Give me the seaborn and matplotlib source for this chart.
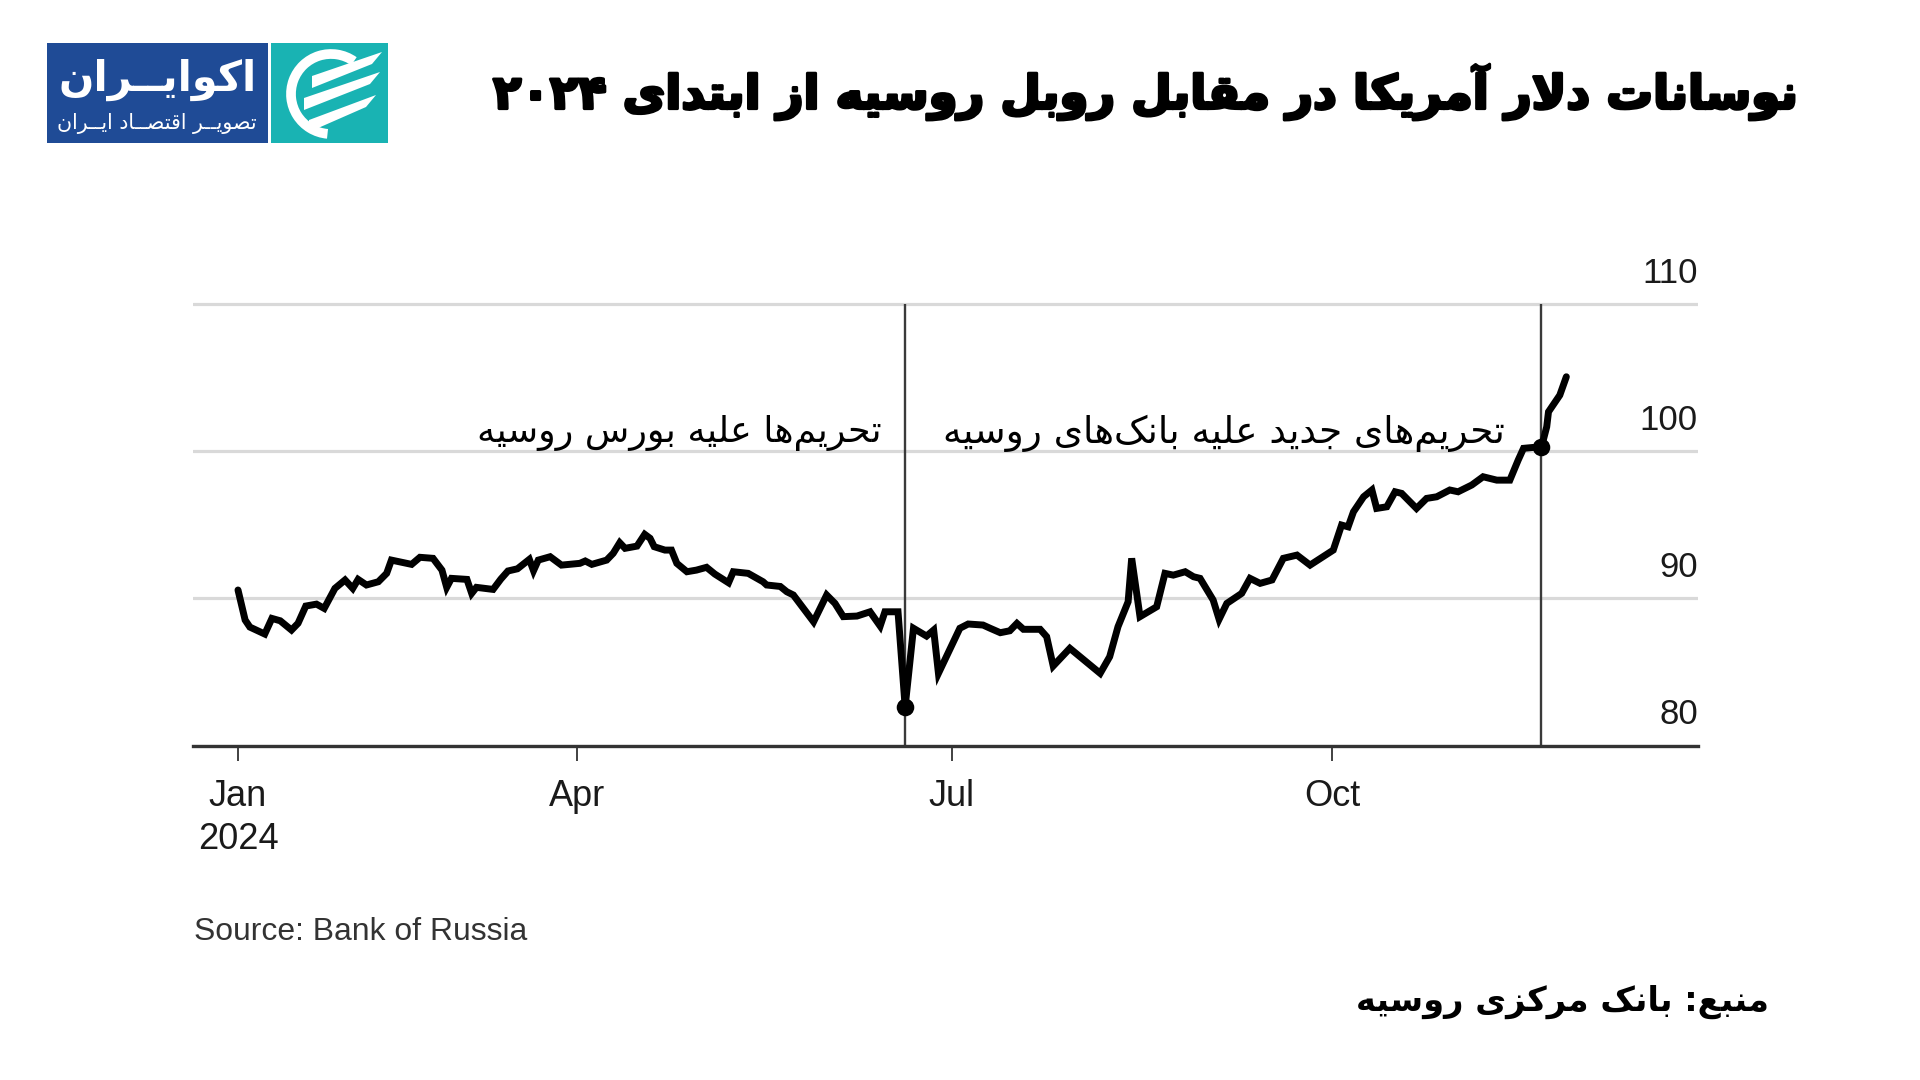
import re
import matplotlib
matplotlib.use("Agg")
import matplotlib.pyplot as plt
import matplotlib.transforms as mtransforms
import matplotlib.patheffects as pe
from matplotlib.patches import Rectangle, Arc, Polygon
import seaborn as sns
import pandas as pd

# ---------------- DATA ----------------
trading_day = [0.0, 1.2, 2.0, 4.5, 5.7, 7.1, 9.0, 10.1, 11.4, 13.2, 14.5, 16.3, 18.0, 19.3, 20.2,
               21.6, 23.6, 25.0, 25.8, 29.2, 30.6, 32.8, 34.3, 35.1, 35.9, 38.5, 39.3, 40.1, 42.9,
               44.2, 45.4, 47.0, 49.0, 49.7, 50.5, 52.5, 54.4, 57.5, 58.4, 59.5, 62.0, 63.1, 64.2,
               65.1, 67.1, 68.4, 69.3, 70.0, 71.8, 72.9, 73.8, 75.5, 77.1, 78.8, 80.2, 82.5, 83.3,
               85.8, 88.3, 88.9, 91.2, 92.3, 93.4, 96.8, 99.0, 100.4, 101.8, 104.1, 106.3, 108.0,
               108.8, 111.0, 112.2, 113.6, 115.8, 117.0, 117.8, 121.4, 122.8, 125.3, 126.5, 128.2,
               129.8, 131.0, 132.1, 134.9, 136.0, 137.1, 139.9, 145.0, 146.6, 148.0, 149.7, 150.3,
               151.7, 154.5, 155.9, 157.3, 159.3, 160.7, 161.8, 164.0, 165.0, 166.3, 168.8, 170.2,
               171.9, 173.9, 175.8, 178.1, 180.3, 184.2, 185.6, 186.7, 187.6, 189.3, 190.7, 191.5,
               193.2, 194.6, 195.7, 196.8, 198.2, 199.9, 201.6, 203.8, 205.2, 207.5, 209.4, 211.7,
               213.9, 215.3, 216.2, 217.8, 219.2, 220.1, 220.4, 222.3, 223.4]
usd_rub = [90.56, 88.52, 88.04, 87.57, 88.63, 88.47, 87.84, 88.30, 89.47, 89.60, 89.31, 90.67, 91.24,
           90.67, 91.28, 90.90, 91.12, 91.69, 92.59, 92.30, 92.78, 92.71, 91.91, 90.74, 91.35, 91.28,
           90.33, 90.74, 90.60, 91.30, 91.85, 92.00, 92.64, 91.87, 92.59, 92.82, 92.25, 92.37, 92.53,
           92.30, 92.59, 93.05, 93.77, 93.39, 93.54, 94.34, 94.07, 93.50, 93.27, 93.27, 92.37, 91.80,
           91.91, 92.10, 91.64, 91.05, 91.80, 91.69, 91.12, 90.90, 90.80, 90.44, 90.22, 88.40, 90.22,
           89.65, 88.75, 88.79, 89.08, 88.11, 89.08, 89.08, 82.63, 87.96, 87.43, 87.84, 84.90, 87.96,
           88.25, 88.18, 87.96, 87.66, 87.79, 88.29, 87.89, 87.89, 87.39, 85.40, 86.60, 84.90, 86.03,
           88.07, 89.76, 92.71, 88.75, 89.42, 91.69, 91.57, 91.80, 91.46, 91.35, 89.88, 88.57, 89.65,
           90.33, 91.35, 91.01, 91.24, 92.71, 92.93, 92.25, 93.27, 94.97, 94.85, 95.87, 96.89, 97.35,
           96.10, 96.21, 97.23, 97.12, 96.67, 96.10, 96.78, 96.89, 97.35, 97.23, 97.69, 98.25, 98.02,
           98.02, 99.38, 100.18, 100.24, 100.24, 101.64, 102.66, 103.79, 105.04]
event_day = [112.2, 219.2]
event_rate = [82.63, 100.24]
month_tick_day = [0, 57, 120, 184]
month_tick_label = ["Jan\n2024", "Apr", "Jul", "Oct"]
y_ticks = [80, 90, 100, 110]
y_tick_label = ["80", "90", "100", "110"]

title_fa = "نوسانات دلار آمریکا در مقابل روبل روسیه از ابتدای ۲۰۲۴"
annot_fa = ["تحریم‌ها علیه بورس روسیه", "تحریم‌های جدید علیه بانک‌های روسیه"]
source_en = "Source: Bank of Russia"
source_fa = "منبع: بانک مرکزی روسیه"
logo_main = "اکوایــران"
logo_sub = "تصویــر اقتصــاد ایــران"

# ---------------- Persian shaping (presentation forms + RTL order) ----------------
FORMS = {
    "ا": (0xFE8D, 0xFE8E, None, None), "آ": (0xFE81, 0xFE82, None, None),
    "ب": (0xFE8F, 0xFE90, 0xFE91, 0xFE92), "پ": (0xFB56, 0xFB57, 0xFB58, 0xFB59),
    "ت": (0xFE95, 0xFE96, 0xFE97, 0xFE98), "ث": (0xFE99, 0xFE9A, 0xFE9B, 0xFE9C),
    "ج": (0xFE9D, 0xFE9E, 0xFE9F, 0xFEA0), "چ": (0xFB7A, 0xFB7B, 0xFB7C, 0xFB7D),
    "ح": (0xFEA1, 0xFEA2, 0xFEA3, 0xFEA4), "خ": (0xFEA5, 0xFEA6, 0xFEA7, 0xFEA8),
    "د": (0xFEA9, 0xFEAA, None, None), "ذ": (0xFEAB, 0xFEAC, None, None),
    "ر": (0xFEAD, 0xFEAE, None, None), "ز": (0xFEAF, 0xFEB0, None, None),
    "ژ": (0xFB8A, 0xFB8B, None, None),
    "س": (0xFEB1, 0xFEB2, 0xFEB3, 0xFEB4), "ش": (0xFEB5, 0xFEB6, 0xFEB7, 0xFEB8),
    "ص": (0xFEB9, 0xFEBA, 0xFEBB, 0xFEBC), "ض": (0xFEBD, 0xFEBE, 0xFEBF, 0xFEC0),
    "ط": (0xFEC1, 0xFEC2, 0xFEC3, 0xFEC4), "ظ": (0xFEC5, 0xFEC6, 0xFEC7, 0xFEC8),
    "ع": (0xFEC9, 0xFECA, 0xFECB, 0xFECC), "غ": (0xFECD, 0xFECE, 0xFECF, 0xFED0),
    "ف": (0xFED1, 0xFED2, 0xFED3, 0xFED4), "ق": (0xFED5, 0xFED6, 0xFED7, 0xFED8),
    "ک": (0xFB8E, 0xFB8F, 0xFB90, 0xFB91), "گ": (0xFB92, 0xFB93, 0xFB94, 0xFB95),
    "ل": (0xFEDD, 0xFEDE, 0xFEDF, 0xFEE0), "م": (0xFEE1, 0xFEE2, 0xFEE3, 0xFEE4),
    "ن": (0xFEE5, 0xFEE6, 0xFEE7, 0xFEE8), "ه": (0xFEE9, 0xFEEA, 0xFEEB, 0xFEEC),
    "و": (0xFEED, 0xFEEE, None, None), "ی": (0xFBFC, 0xFBFD, 0xFBFE, 0xFBFF),
    "ـ": (0x0640, 0x0640, 0x0640, 0x0640),
}


def _joins_next(c):
    return c in FORMS and FORMS[c][2] is not None


def fa(text):
    chars = list(text)
    out = []
    i = 0
    n = len(chars)
    while i < n:
        c = chars[i]
        prev_j = i > 0 and _joins_next(chars[i - 1])
        if c == "ل" and i + 1 < n and chars[i + 1] in ("ا", "آ"):
            if chars[i + 1] == "ا":
                out.append(chr(0xFEFC if prev_j else 0xFEFB))
            else:
                out.append(chr(0xFEF6 if prev_j else 0xFEF5))
            i += 2
            continue
        if c in FORMS:
            iso, fin, ini, med = FORMS[c]
            next_j = _joins_next(c) and i + 1 < n and chars[i + 1] in FORMS
            if prev_j and next_j:
                code = med
            elif prev_j:
                code = fin
            elif next_j:
                code = ini
            else:
                code = iso
            out.append(chr(code))
        elif c == "\u200c":
            pass
        else:
            out.append(c)
        i += 1
    tokens = re.findall(r"[0-9\u06F0-\u06F9]+|.", "".join(out), flags=re.S)
    return "".join(reversed(tokens))


# ---------------- STYLE ----------------
sns.set_style("white")
plt.rcParams["font.family"] = ["DejaVu Sans"]
LATIN = ["Liberation Sans", "DejaVu Sans"]

W, H = 1920, 1080
fig = plt.figure(figsize=(19.2, 10.8), dpi=100, facecolor="white")

# overlay axes in pixel coordinates (for logo / titles)
ov = fig.add_axes([0, 0, 1, 1], zorder=0)
ov.set_xlim(0, W)
ov.set_ylim(H, 0)
ov.axis("off")

# main chart axes
px_per_day = 5.946
x0_px = 238.0
left_px, right_px = 193.0, 1698.0
bottom_px, top_px = 745.5, 289.0
ax = fig.add_axes([left_px / W, 1 - bottom_px / H, (right_px - left_px) / W, (bottom_px - top_px) / H], zorder=2)
ax.set_facecolor("none")

df = pd.DataFrame({"day": trading_day, "rate": usd_rub})
ev = pd.DataFrame({"day": event_day, "rate": event_rate})

ax.set_yticks(y_ticks)
ax.grid(axis="y", color="#d9d9d9", lw=2.3, zorder=0)
ax.grid(axis="x", visible=False)
ax.vlines(event_day, 80, 110, color="#3a3a3a", lw=1.7, zorder=2)
sns.lineplot(data=df, x="day", y="rate", ax=ax, color="black", lw=5.0, zorder=3,
             solid_joinstyle="miter", estimator=None)
sns.scatterplot(data=ev, x="day", y="rate", ax=ax, color="black", s=160, zorder=4,
                edgecolor="black", linewidth=0)

ax.set_xlim((left_px - x0_px) / px_per_day, (right_px - x0_px) / px_per_day)
ax.set_ylim(80, 111)
for s in ["left", "right", "top"]:
    ax.spines[s].set_visible(False)
ax.spines["bottom"].set_color("#333333")
ax.spines["bottom"].set_linewidth(2.4)
ax.set_xlabel("")
ax.set_ylabel("")

ax.set_xticks(month_tick_day)
ax.set_xticklabels(month_tick_label, family=LATIN, fontsize=26, color="#1a1a1a", linespacing=1.3)
ax.tick_params(axis="x", direction="out", length=11, width=1.3, color="#333333", pad=13, bottom=True)
ax.tick_params(axis="y", left=False, right=False, labelleft=False)

up = mtransforms.ScaledTranslation(0, 0.14, fig.dpi_scale_trans)
for v, lab in zip(y_ticks, y_tick_label):
    ax.text(1.0, v, lab, transform=ax.get_yaxis_transform() + up, ha="right", va="bottom",
            family=LATIN, fontsize=25, color="#1a1a1a")

renderer = fig.canvas.get_renderer()


def fit(t, width):
    w = t.get_window_extent(renderer).width
    t.set_fontsize(t.get_fontsize() * width / w)
    return t


# annotations (data coordinates)
a1 = ax.text((881.6 - x0_px) / px_per_day, 101.2, fa(annot_fa[0]), ha="right", va="center",
             fontsize=22, color="black", zorder=5)
fit(a1, 404)
a2 = ax.text((1505 - x0_px) / px_per_day, 101.2, fa(annot_fa[1]), ha="right", va="center",
             fontsize=22, color="black", zorder=5)
fit(a2, 562)

# title
t = ov.text(1798, 92, fa(title_fa), ha="right", va="center", fontsize=34, weight="bold", color="black")
fit(t, 1305)
t.set_path_effects([pe.withStroke(linewidth=2.2, foreground="black")])

# sources
s1 = ov.text(193.5, 932, source_en, ha="left", va="center", family=LATIN, fontsize=22, color="#333333")
fit(s1, 332)
s2 = ov.text(1769, 1002, fa(source_fa), ha="right", va="center", fontsize=24, weight="bold", color="black")
fit(s2, 415)

# logo
BLUE = "#1f4b96"
TEAL = "#19b3b3"
ov.add_patch(Rectangle((47, 43), 221, 100, color=BLUE, lw=0))
ov.add_patch(Rectangle((271, 43), 117, 100, color=TEAL, lw=0))
lm = ov.text(257, 80, fa(logo_main), ha="right", va="center", fontsize=30, weight="bold", color="white")
fit(lm, 198)
ls = ov.text(257, 124, fa(logo_sub), ha="right", va="center", fontsize=12, color="white")
fit(ls, 200)
ov.add_patch(Arc((331, 94), 80, 80, theta1=95, theta2=305, color="white", lw=7))
for (xa, ya, xb, yb) in [(312, 82, 382, 52), (304, 104, 380, 72), (309, 126, 376, 95)]:
    d = 6
    ov.add_patch(Polygon([(xa, ya - d), (xb, yb), (xb - 10, yb + 2 * d), (xa, ya + d)],
                         closed=True, color="white", lw=0))

fig.savefig("out.png", dpi=100, facecolor="white")
